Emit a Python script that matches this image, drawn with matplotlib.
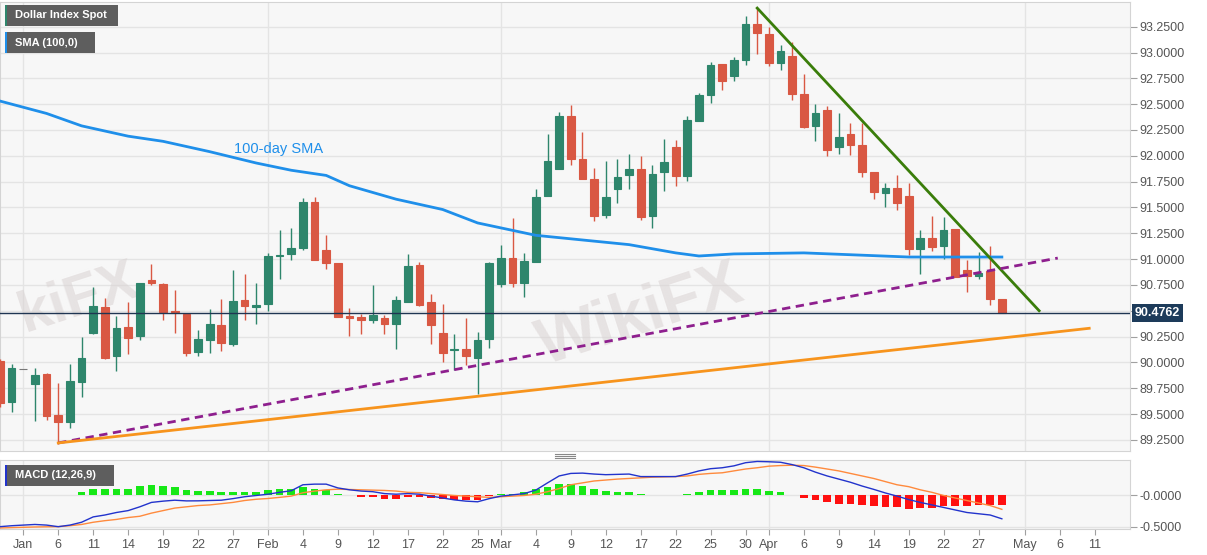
import numpy as np
import pandas as pd
import matplotlib
matplotlib.use("Agg")
import matplotlib.pyplot as plt
import matplotlib.transforms as mtransforms
from matplotlib.patches import Rectangle
from matplotlib.lines import Line2D

plt.rcParams['font.family'] = ['Liberation Sans', 'DejaVu Sans']

# ---- data ----
dates = pd.bdate_range("2020-12-30", "2021-04-29")

opens = [90.01, 89.62, 89.94, 89.79, 89.885, 89.49, 89.42, 89.81, 90.28, 90.54,
         90.06, 90.34, 90.26, 90.80, 90.76, 90.50, 90.47, 90.10, 90.22, 90.36,
         90.18, 90.60, 90.54, 90.57, 91.03, 91.05, 91.11, 91.55, 91.09, 90.96,
         90.45, 90.44, 90.41, 90.43, 90.37, 90.58, 90.94, 90.58, 90.28, 90.12,
         90.13, 90.04, 90.23, 90.76, 91.01, 90.77, 90.97, 91.61, 91.87, 92.39,
         91.97, 91.78, 91.43, 91.68, 91.81, 91.87, 91.42, 91.84, 92.09, 91.80,
         92.34, 92.59, 92.89, 92.77, 92.93, 93.28, 93.18, 92.90, 92.97, 92.60,
         92.29, 92.44, 92.09, 92.21, 92.10, 91.84, 91.64, 91.69, 91.61, 91.10,
         91.20, 91.13, 91.29, 90.89, 90.84, 90.88, 90.61]
highs = [90.03, 89.98, 89.94, 89.95, 89.895, 89.80, 89.98, 90.25, 90.73, 90.62,
         90.45, 90.58, 90.77, 90.95, 90.77, 90.70, 90.48, 90.31, 90.52, 90.61,
         90.89, 90.86, 90.77, 91.06, 91.28, 91.30, 91.59, 91.60, 91.23, 90.96,
         90.53, 90.47, 90.75, 90.46, 90.64, 91.05, 90.97, 90.66, 90.57, 90.27,
         90.43, 90.29, 90.97, 91.14, 91.40, 91.06, 91.68, 92.21, 92.42, 92.49,
         92.23, 91.88, 91.95, 91.97, 92.02, 92.00, 91.91, 92.16, 92.15, 92.39,
         92.61, 92.91, 92.89, 92.96, 93.35, 93.43, 93.25, 93.07, 93.10, 92.79,
         92.50, 92.48, 92.41, 92.32, 92.32, 91.84, 91.74, 91.81, 91.74, 91.28,
         91.42, 91.41, 91.29, 90.99, 91.07, 91.13, 90.61]
lows = [89.57, 89.52, 89.94, 89.43, 89.44, 89.21, 89.36, 89.66, 90.27, 90.03,
        89.92, 90.08, 90.22, 90.75, 90.41, 90.28, 90.06, 90.06, 90.09, 90.11,
        90.16, 90.41, 90.37, 90.50, 90.81, 90.99, 91.09, 90.99, 90.90, 90.44,
        90.26, 90.27, 90.38, 90.27, 90.13, 90.58, 90.55, 90.18, 90.00, 89.93,
        89.97, 89.69, 90.14, 90.73, 90.73, 90.63, 90.97, 91.61, 91.87, 91.91,
        91.78, 91.37, 91.40, 91.54, 91.68, 91.38, 91.30, 91.66, 91.71, 91.76,
        92.34, 92.51, 92.64, 92.72, 92.88, 92.99, 92.87, 92.83, 92.54, 92.27,
        92.14, 92.00, 92.02, 92.01, 91.79, 91.58, 91.50, 91.48, 91.04, 90.86,
        91.08, 91.00, 90.83, 90.68, 90.81, 90.56, 90.4762]
closes = [89.61, 89.95, 89.94, 89.875, 89.48, 89.42, 89.82, 90.04, 90.55, 90.04,
          90.33, 90.24, 90.77, 90.77, 90.49, 90.49, 90.09, 90.23, 90.37, 90.19,
          90.59, 90.55, 90.56, 91.03, 91.04, 91.11, 91.55, 90.99, 90.96, 90.44,
          90.43, 90.41, 90.46, 90.37, 90.60, 90.93, 90.56, 90.36, 90.09, 90.13,
          90.06, 90.22, 90.96, 91.01, 90.77, 90.98, 91.60, 91.95, 92.39, 91.97,
          91.78, 91.42, 91.60, 91.79, 91.87, 91.41, 91.82, 91.94, 91.80, 92.35,
          92.59, 92.88, 92.72, 92.93, 93.28, 93.19, 92.90, 93.01, 92.60, 92.28,
          92.41, 92.06, 92.18, 92.10, 91.84, 91.65, 91.69, 91.54, 91.10, 91.20,
          91.12, 91.28, 90.83, 90.84, 90.87, 90.61, 90.4762]

# 100-day SMA, read at a handful of bars (bar number, value)
sma_bar = [0, 4, 7, 11, 14, 18, 22, 25, 28, 30, 34, 38, 41, 46, 54, 58, 60, 63, 69, 78, 86]
sma_val = [92.53, 92.41, 92.29, 92.19, 92.14, 92.04, 91.93, 91.86, 91.81, 91.71, 91.58,
           91.48, 91.35, 91.23, 91.14, 91.06, 91.03, 91.05, 91.06, 91.02, 91.02]

# trend lines: (bar number, price) end points
down_line = ([65, 89.2], [93.43, 90.50])
mid_support = ([5, 90.8], [89.22, 91.01])
low_support = ([5, 93.5], [89.22, 90.33])
last_price = 90.4762

macd = [-0.495, -0.48, -0.47, -0.46, -0.47, -0.495, -0.47, -0.425, -0.34, -0.31,
        -0.27, -0.24, -0.18, -0.11, -0.09, -0.075, -0.086, -0.085, -0.08, -0.075,
        -0.05, -0.02, 0.0, 0.02, 0.05, 0.075, 0.17, 0.18, 0.18, 0.12,
        0.09, 0.07, 0.06, 0.03, 0.02, 0.03, 0.02, -0.01, -0.04, -0.07,
        -0.09, -0.10, -0.05, -0.01, 0.01, 0.03, 0.086, 0.2, 0.31, 0.35,
        0.355, 0.34, 0.33, 0.335, 0.34, 0.30, 0.30, 0.30, 0.30, 0.34,
        0.39, 0.425, 0.44, 0.47, 0.52, 0.54, 0.535, 0.527, 0.49, 0.44,
        0.37, 0.31, 0.26, 0.21, 0.15, 0.097, 0.04, -0.01, -0.065, -0.11,
        -0.15, -0.19, -0.23, -0.27, -0.29, -0.31, -0.37]
signal = [-0.516, -0.51, -0.505, -0.50, -0.497, -0.495, -0.48, -0.46, -0.425, -0.40,
          -0.38, -0.35, -0.33, -0.28, -0.24, -0.2, -0.18, -0.16, -0.15, -0.13,
          -0.11, -0.08, -0.06, -0.048, -0.03, -0.01, 0.043, 0.07, 0.09, 0.10,
          0.095, 0.09, 0.085, 0.08, 0.07, 0.05, 0.045, 0.03, 0.015, 0.0,
          -0.01, -0.02, -0.03, -0.02, -0.01, 0.0, 0.02, 0.06, 0.11, 0.17,
          0.20, 0.23, 0.245, 0.26, 0.27, 0.28, 0.29, 0.295, 0.30, 0.31,
          0.335, 0.35, 0.36, 0.39, 0.42, 0.44, 0.465, 0.475, 0.48, 0.475,
          0.45, 0.42, 0.39, 0.35, 0.31, 0.27, 0.22, 0.17, 0.14, 0.09,
          0.05, 0.0, -0.04, -0.08, -0.12, -0.16, -0.22]
hist = [0.01, 0.01, 0.01, 0.004, 0.003, 0.002, 0.01, 0.05, 0.097, 0.10,
        0.11, 0.11, 0.15, 0.167, 0.15, 0.13, 0.086, 0.07, 0.07, 0.05,
        0.06, 0.06, 0.06, 0.086, 0.10, 0.11, 0.13, 0.107, 0.086, 0.03,
        0.003, -0.02, -0.03, -0.05, -0.05, -0.02, -0.02, -0.04, -0.06, -0.075,
        -0.075, -0.075, -0.01, 0.02, 0.03, 0.05, 0.097, 0.14, 0.19, 0.18,
        0.156, 0.10, 0.065, 0.054, 0.048, 0.016, 0.01, 0.005, 0.005, 0.03,
        0.054, 0.08, 0.08, 0.08, 0.10, 0.10, 0.07, 0.048, 0.005, -0.04,
        -0.075, -0.11, -0.13, -0.14, -0.156, -0.17, -0.18, -0.18, -0.21, -0.20,
        -0.20, -0.167, -0.17, -0.17, -0.156, -0.145, -0.145]

# x-axis ticks: bar number (trading days since 2020-12-30) and label
tick_bars = [2, 5, 8, 11, 14, 17, 20, 23, 26, 29, 32, 35, 38, 41, 43, 46, 49, 52, 55,
             58, 61, 64, 66, 69, 72, 75, 78, 81, 84, 88, 91, 94]
tick_labels = ["Jan", "6", "11", "14", "19", "22", "27", "Feb", "4", "9", "12", "17", "22",
               "25", "Mar", "4", "9", "12", "17", "22", "25", "30", "Apr", "6", "9", "14",
               "19", "22", "27", "May", "6", "11"]
month_bars = [2, 23, 43, 66, 88]

# ---- figure ----
W, H = 1207, 555
GREEN, RED = "#2e866c", "#d95843"
GRID = "#e4e4e4"


def fx(px):
    return px / W


def fy(py):
    return 1 - py / H


fig = plt.figure(figsize=(W / 100, H / 100), dpi=100, facecolor="white")
ax = fig.add_axes([0, fy(451), fx(1130), (451 - 2) / H])
mx = fig.add_axes([0, fy(529), fx(1130), (529 - 460) / H])

x = np.arange(len(dates))
o, h, l, c = map(np.array, (opens, highs, lows, closes))
cols = [GREEN if cc > oo else (RED if cc < oo else "#777777") for oo, cc in zip(o, c)]

for a in (ax, mx):
    a.set_facecolor("#f7f7f7")
    a.set_xlim(0, 97.0)
    for s in a.spines.values():
        s.set_color("#d4d4d4")
    for mb in month_bars:
        a.axvline(mb, color=GRID, lw=1, zorder=0)

# main price panel
yt = np.arange(89.25, 93.26, 0.25)
for v in yt:
    ax.axhline(v, color=GRID, lw=1, zorder=0)
ax.set_ylim(89.142, 93.489)

ax.vlines(x, l, h, colors=cols, lw=1, zorder=3)
ax.bar(x, np.abs(c - o), bottom=np.minimum(o, c), width=0.66, color=cols,
       edgecolor=cols, linewidth=0.8, zorder=4)

ax.plot(sma_bar, sma_val, color="#1f8fea", lw=2, zorder=5)
ax.text(20.1, 92.07, "100-day SMA", color="#1f8fea", fontsize=10.5, va="center", zorder=6)

ax.plot(*down_line, color="#3a7d0a", lw=2, zorder=6)
ax.plot(*mid_support, color="#8e1f8e", lw=2, ls=(0, (3, 2)), zorder=6)
ax.plot(*low_support, color="#f7941d", lw=2, zorder=6)
ax.axhline(last_price, color="#1f3552", lw=1, zorder=5)

# watermarks (the left one is only partly visible in the source)
for wx, wy, wtext, fs in [(6.8, 90.62, "kiFX", 42), (55, 90.45, "WikiFX", 46)]:
    ax.text(wx, wy, wtext, fontsize=fs, fontweight="bold", color="#d9d2d2",
            alpha=0.55, rotation=18, ha="center", va="center", zorder=2)

ax.yaxis.tick_right()
ax.set_yticks(yt)
ax.set_yticklabels(["" if abs(v - 90.5) < 1e-6 else f"{v:.4f}" for v in yt])
ax.tick_params(axis="y", colors="#a0a0a0", labelcolor="#555555", labelsize=9,
               length=5, pad=2)
ax.tick_params(axis="x", bottom=False, labelbottom=False)

trans = mtransforms.blended_transform_factory(ax.transAxes, ax.transData)
ax.text(1.004, last_price, "90.4762", transform=trans, color="white", fontsize=9,
        fontweight="bold", va="center", ha="left", zorder=10,
        bbox=dict(boxstyle="square,pad=0.22", fc="#1d3b5a", ec="none"))

# MACD panel
mx.set_ylim(-0.532, 0.563)
for v in (0.0, -0.5):
    mx.axhline(v, color=GRID, lw=1, zorder=0)
hcol = ["#17e817" if v >= 0 else "#ff1010" for v in hist]
mx.bar(x, hist, width=0.66, color=hcol, zorder=3)
mx.plot(x, signal, color="#ff8a3d", lw=1, zorder=4)
mx.plot(x, macd, color="#2233cc", lw=1, zorder=5)
mx.yaxis.tick_right()
mx.set_yticks([-0.5, 0.0])
mx.set_yticklabels(["-0.5000", "-0.0000"])
mx.tick_params(axis="y", colors="#a0a0a0", labelcolor="#555555", labelsize=9,
               length=5, pad=2)
mx.set_xticks(tick_bars)
mx.set_xticklabels(tick_labels)
mx.tick_params(axis="x", colors="#a0a0a0", labelcolor="#555555", labelsize=9,
               length=4, pad=3)


# legend boxes in the top-left corners
def tag(x0, y0, w, hgt, text, bar_color):
    fig.add_artist(Rectangle((fx(x0), fy(y0 + hgt)), w / W, hgt / H,
                             transform=fig.transFigure, fc="#5e5e5e", ec="none"))
    fig.add_artist(Rectangle((fx(x0), fy(y0 + hgt)), 2 / W, hgt / H,
                             transform=fig.transFigure, fc=bar_color, ec="none"))
    fig.text(fx(x0 + 10), fy(y0 + hgt / 2), text, color="white", fontsize=8,
             fontweight="bold", va="center", ha="left")


tag(5, 5, 113, 21, "Dollar Index Spot", "#2e866c")
tag(5, 32, 90, 21, "SMA (100,0)", "#1f8fea")
tag(5, 465, 109, 21, "MACD (12,26,9)", "#2233cc")

# panel resize handle
for dy in (454, 456, 458):
    fig.add_artist(Line2D([fx(555), fx(575)], [fy(dy), fy(dy)], color="#888888",
                          lw=0.8, transform=fig.transFigure))

fig.savefig("out.png", dpi=100, facecolor="white")
